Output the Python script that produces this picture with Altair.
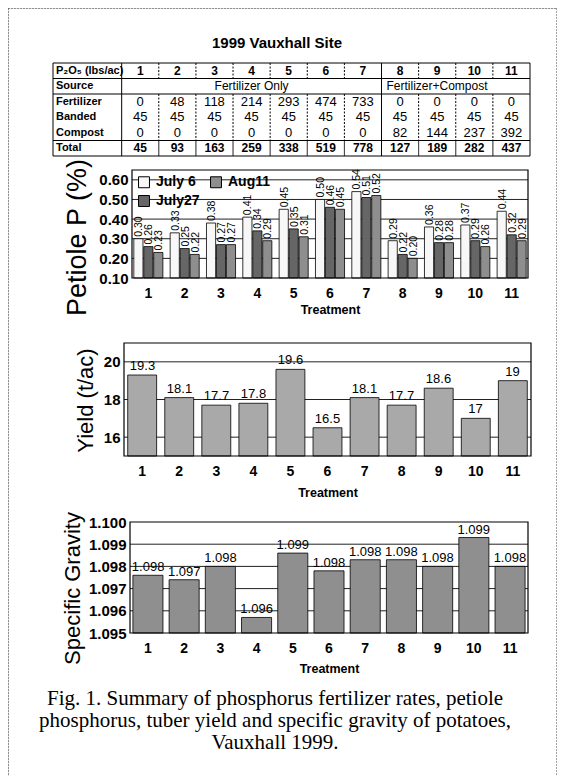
import altair as alt
import pandas as pd

# ---------------- data ----------------
treatments = [str(i) for i in range(1, 12)]
row_labels = ["P\u2082O\u2085 (lbs/ac)", "Source", "Fertilizer", "Banded", "Compost", "Total"]
source_groups = ["Fertilizer Only", "Fertilizer+Compost"]
fertilizer = [0, 48, 118, 214, 293, 474, 733, 0, 0, 0, 0]
banded = [45, 45, 45, 45, 45, 45, 45, 45, 45, 45, 45]
compost = [0, 0, 0, 0, 0, 0, 0, 82, 144, 237, 392]
total = [45, 93, 163, 259, 338, 519, 778, 127, 189, 282, 437]

dates = ["July 6", "July27", "Aug11"]
petiole_jul6 = [0.30, 0.33, 0.38, 0.41, 0.45, 0.50, 0.54, 0.29, 0.36, 0.37, 0.44]
petiole_jul27 = [0.26, 0.25, 0.27, 0.34, 0.35, 0.46, 0.51, 0.22, 0.28, 0.29, 0.32]
petiole_aug11 = [0.23, 0.22, 0.27, 0.29, 0.31, 0.45, 0.52, 0.20, 0.28, 0.26, 0.29]
petiole_ticks = [0.10, 0.20, 0.30, 0.40, 0.50, 0.60]
petiole_domain = [0.10, 0.65]

yield_tac = [19.3, 18.1, 17.7, 17.8, 19.6, 16.5, 18.1, 17.7, 18.6, 17, 19]
yield_ticks = [16, 18, 20]
yield_domain = [15, 21]

sg = [1.0976, 1.0974, 1.0980, 1.0957, 1.0986, 1.0978, 1.0983, 1.0983, 1.0980, 1.0993, 1.0980]
sg_ticks = [1.095, 1.096, 1.097, 1.098, 1.099, 1.100]
sg_domain = [1.095, 1.100]

title_text = "1999 Vauxhall Site"
caption_text = ("Fig. 1. Summary of phosphorus fertilizer rates, petiole\n"
                "phosphorus, tuber yield and specific gravity of potatoes,\n"
                "Vauxhall 1999.")

# ---------------- layout ----------------
W, H = 549, 768
FONT = "Liberation Sans"
SERIF = "Liberation Serif"


def P(v):
    return v - 8


layers = []

# outer dotted border (left, top, right)
border_df = pd.DataFrame({"a": [0]})
for enc in [dict(x=alt.value(0.5), y=alt.value(0.5), y2=alt.value(H)),
            dict(x=alt.value(W - 0.5), y=alt.value(0.5), y2=alt.value(H)),
            dict(x=alt.value(0.5), x2=alt.value(W - 0.5), y=alt.value(0.5))]:
    layers.append(alt.Chart(border_df).mark_rule(color="#444", strokeDash=[1, 2], strokeWidth=1).encode(**enc))

# title
layers.append(alt.Chart(pd.DataFrame({"t": [title_text]})).mark_text(
    font=FONT, fontSize=15, fontWeight="bold", color="black").encode(
    x=alt.value(P(277)), y=alt.value(P(43)), text="t:N"))

# ---------------- table ----------------
T_LEFT = -1.85
tx = alt.Scale(domain=[T_LEFT, 11], range=[P(53), P(530)], nice=False, zero=False)
ty = alt.Scale(domain=[-0.5, 5.5], range=[P(63), P(156)], nice=False, zero=False)

head, nums, labs = [], [], []
for i, t in enumerate(treatments):
    c = i + 0.5
    head.append(dict(x=c, row=0, text=t))
    nums.append(dict(x=c, row=2, text=str(fertilizer[i])))
    nums.append(dict(x=c, row=3, text=str(banded[i])))
    nums.append(dict(x=c, row=4, text=str(compost[i])))
    head.append(dict(x=c, row=5, text=str(total[i])))
for r, lab in enumerate(row_labels):
    labs.append(dict(x=T_LEFT, row=r, text=lab))

rules = []
for yv in [-0.5, 0.5, 1.5, 4.5, 5.5]:
    rules.append(dict(x=T_LEFT, x2=11, y=yv, y2=yv, style="solid"))
for xv in [T_LEFT, 0, 7, 11]:
    rules.append(dict(x=xv, x2=xv, y=-0.5, y2=5.5, style="solid"))
for k in range(1, 11):
    if k == 7:
        continue
    rules.append(dict(x=k, x2=k, y=-0.5, y2=0.5, style="dash"))
    rules.append(dict(x=k, x2=k, y=1.5, y2=4.5, style="dash"))
    rules.append(dict(x=k, x2=k, y=4.5, y2=5.5, style="solid"))

layers.append(alt.Chart(pd.DataFrame(rules)).mark_rule(color="black", strokeWidth=1).encode(
    x=alt.X("x:Q", scale=tx, axis=None), x2="x2:Q",
    y=alt.Y("y:Q", scale=ty, axis=None), y2="y2:Q",
    strokeDash=alt.StrokeDash("style:N", scale=alt.Scale(domain=["solid", "dash"], range=[[1, 0], [2, 1.5]]),
                              legend=None)))

layers.append(alt.Chart(pd.DataFrame(head)).mark_text(
    font=FONT, fontSize=12, fontWeight="bold", color="black").encode(
    x=alt.X("x:Q", scale=tx, axis=None), y=alt.Y("row:Q", scale=ty, axis=None), text="text:N"))
layers.append(alt.Chart(pd.DataFrame(nums)).mark_text(
    font=FONT, fontSize=13, color="black").encode(
    x=alt.X("x:Q", scale=tx, axis=None), y=alt.Y("row:Q", scale=ty, axis=None), text="text:N"))
layers.append(alt.Chart(pd.DataFrame(labs)).mark_text(
    font=FONT, fontSize=11, fontWeight="bold", color="black", align="left", dx=3).encode(
    x=alt.X("x:Q", scale=tx, axis=None), y=alt.Y("row:Q", scale=ty, axis=None), text="text:N"))
layers.append(alt.Chart(pd.DataFrame([dict(x=3.5, row=1, text=source_groups[0])])).mark_text(
    font=FONT, fontSize=12, color="black").encode(
    x=alt.X("x:Q", scale=tx, axis=None), y=alt.Y("row:Q", scale=ty, axis=None), text="text:N"))
layers.append(alt.Chart(pd.DataFrame([dict(x=7, row=1, text=source_groups[1])])).mark_text(
    font=FONT, fontSize=12, color="black", align="left", dx=5).encode(
    x=alt.X("x:Q", scale=tx, axis=None), y=alt.Y("row:Q", scale=ty, axis=None), text="text:N"))


# ---------------- helpers for panels ----------------
def frame_layers(xr, yscale, grid_vals, ydom):
    fx = alt.Scale(domain=[0, 1], range=xr, nice=False, zero=False)
    grid = alt.Chart(pd.DataFrame({"g": grid_vals})).mark_rule(color="#222", strokeWidth=1).encode(
        x=alt.XDatum(0, type="quantitative", scale=fx, axis=None), x2=alt.datum(1),
        y=alt.Y("g:Q", scale=yscale, axis=None))
    frame = alt.Chart(pd.DataFrame({"a": [0]})).mark_rect(
        fill="white", fillOpacity=0, stroke="black", strokeWidth=1.2).encode(
        x=alt.XDatum(0, type="quantitative", scale=fx, axis=None), x2=alt.datum(1),
        y=alt.YDatum(ydom[0], type="quantitative", scale=yscale, axis=None), y2=alt.datum(ydom[1]))
    return grid, frame


def x_axis(bottom_px, pad=8, tpad=3):
    return alt.Axis(orient="bottom", offset=-(H - P(bottom_px)), labelAngle=0, ticks=False, domain=False,
                    grid=False, labelFont=FONT, labelFontSize=14, labelFontWeight="bold", labelColor="black",
                    labelPadding=pad, title="Treatment", titleFont=FONT, titleFontSize=12.5,
                    titleFontWeight="bold", titleColor="black", titlePadding=tpad)


def y_axis(left_px, vals, fmt, title, tsize, tpad, title_center):
    return alt.Axis(orient="left", offset=-P(left_px), values=vals, format=fmt, ticks=False, domain=False,
                    grid=False, labelFont=FONT, labelFontSize=15, labelFontWeight="bold", labelColor="black",
                    labelPadding=4, title=title, titleFont=FONT, titleFontSize=tsize, titleFontWeight="normal",
                    titleColor="black", titlePadding=tpad, titleY=P(title_center))


# ---------------- petiole panel ----------------
pet_df = pd.DataFrame({
    "treatment": treatments * 3,
    "date": [d for d in dates for _ in treatments],
    "value": petiole_jul6 + petiole_jul27 + petiole_aug11,
})
pet_xr = [P(132), P(528)]
pet_y = alt.Scale(domain=petiole_domain, range=[P(278), P(170)], nice=False, zero=False)
g, f = frame_layers(pet_xr, pet_y, petiole_ticks[1:], petiole_domain)


def pet_x():
    return alt.Scale(domain=treatments, range=pet_xr, paddingInner=0.2, paddingOuter=0.05)


def pet_off():
    return alt.Scale(domain=dates, paddingInner=0.08)


pet_bars = alt.Chart(pet_df).mark_bar(stroke="black", strokeWidth=0.8).encode(
    x=alt.X("treatment:N", scale=pet_x(), axis=x_axis(278)),
    xOffset=alt.XOffset("date:N", scale=pet_off()),
    y=alt.Y("value:Q", scale=pet_y,
            axis=y_axis(132, petiole_ticks, ".2f", "Petiole P (%)", 27, 7, 237)),
    y2=alt.datum(petiole_domain[0]),
    color=alt.Color("date:N", scale=alt.Scale(domain=dates, range=["#f7f7f7", "#666666", "#8e8e8e"]),
                    legend=alt.Legend(orient="none", legendX=P(137), legendY=P(175), columns=2, title=None,
                                      symbolType="square", symbolSize=120, symbolStrokeColor="black",
                                      symbolStrokeWidth=1, symbolOpacity=1, labelFont=FONT, labelFontSize=14,
                                      labelFontWeight="bold", labelColor="black", rowPadding=3,
                                      columnPadding=8, labelOffset=5)),
)
pet_text = alt.Chart(pet_df).mark_text(angle=270, align="left", baseline="middle", dx=2, dy=1,
                                       font=FONT, fontSize=10.5, color="black").encode(
    x=alt.X("treatment:N", scale=pet_x(), axis=None),
    xOffset=alt.XOffset("date:N", scale=pet_off()),
    y=alt.Y("value:Q", scale=pet_y, axis=None),
    text=alt.Text("value:Q", format=".2f"),
)
layers += [g, pet_bars, pet_text, f]

# ---------------- yield panel ----------------
yld_df = pd.DataFrame({"treatment": treatments, "value": yield_tac})
yld_xr = [P(124), P(531)]
yld_y = alt.Scale(domain=yield_domain, range=[P(456), P(343)], nice=False, zero=False)
g, f = frame_layers(yld_xr, yld_y, yield_ticks, yield_domain)


def yld_x():
    return alt.Scale(domain=treatments, range=yld_xr, paddingInner=0.22, paddingOuter=0.1)


yld_bars = alt.Chart(yld_df).mark_bar(stroke="black", strokeWidth=0.8, color="#a9a9a9").encode(
    x=alt.X("treatment:N", scale=yld_x(), axis=x_axis(456, 8, 8)),
    y=alt.Y("value:Q", scale=yld_y, axis=y_axis(124, yield_ticks, "d", "Yield (t/ac)", 22, 6, 400)),
    y2=alt.datum(yield_domain[0]),
)
yld_text = alt.Chart(yld_df).mark_text(baseline="bottom", dy=-2, font=FONT, fontSize=13, color="black").encode(
    x=alt.X("treatment:N", scale=yld_x(), axis=None),
    y=alt.Y("value:Q", scale=yld_y, axis=None),
    text=alt.Text("value:Q", format="~g"),
)
layers += [g, yld_bars, yld_text, f]

# ---------------- specific gravity panel ----------------
sg_df = pd.DataFrame({"treatment": treatments, "value": sg})
sg_xr = [P(130), P(528)]
sg_y = alt.Scale(domain=sg_domain, range=[P(633), P(522)], nice=False, zero=False)
g, f = frame_layers(sg_xr, sg_y, sg_ticks[1:-1], sg_domain)


def sg_x():
    return alt.Scale(domain=treatments, range=sg_xr, paddingInner=0.17, paddingOuter=0.08)


sg_bars = alt.Chart(sg_df).mark_bar(stroke="black", strokeWidth=0.8, color="#8f8f8f").encode(
    x=alt.X("treatment:N", scale=sg_x(), axis=x_axis(633, 8, 7)),
    y=alt.Y("value:Q", scale=sg_y,
            axis=y_axis(130, sg_ticks, ".3f", "Specific Gravity", 22, 4, 588)),
    y2=alt.datum(sg_domain[0]),
)
sg_text = alt.Chart(sg_df).mark_text(baseline="bottom", dy=-1, font=FONT, fontSize=13, color="black").encode(
    x=alt.X("treatment:N", scale=sg_x(), axis=None),
    y=alt.Y("value:Q", scale=sg_y, axis=None),
    text=alt.Text("value:Q", format=".3f"),
)
layers += [g, sg_bars, sg_text, f]

# ---------------- caption ----------------
layers.append(alt.Chart(pd.DataFrame({"t": [caption_text]})).mark_text(
    font=SERIF, fontSize=21, color="black", baseline="top", lineBreak="\n", lineHeight=22).encode(
    x=alt.value(P(275)), y=alt.value(P(688)), text="t:N"))

chart = alt.layer(*layers).resolve_scale(
    x="independent", y="independent", color="independent", strokeDash="independent"
).properties(
    width=W, height=H, padding=0, autosize=alt.AutoSizeParams(type="none")
).configure_view(stroke=None).configure(background="white")

chart.save("out.html", embed_options={"renderer": "svg", "actions": False})
